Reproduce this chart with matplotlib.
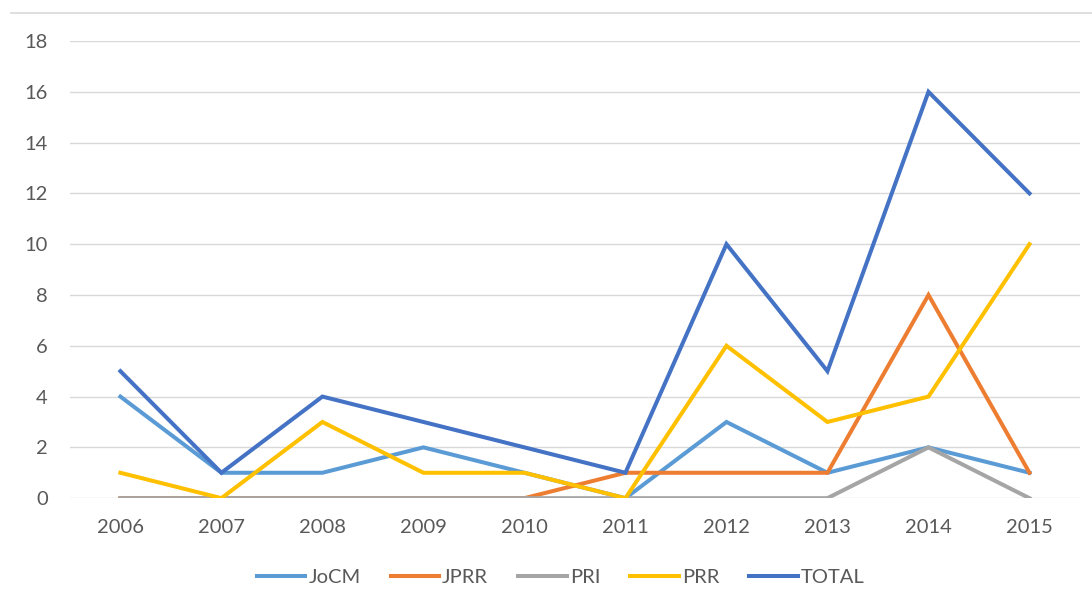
import matplotlib
matplotlib.use('Agg')
import matplotlib.pyplot as plt
from matplotlib.lines import Line2D

years = ['2006', '2007', '2008', '2009', '2010', '2011', '2012', '2013', '2014', '2015']
jocm = [4, 1, 1, 2, 1, 0, 3, 1, 2, 1]
jprr = [0, 0, 0, 0, 0, 1, 1, 1, 8, 1]
pri = [0, 0, 0, 0, 0, 0, 0, 0, 2, 0]
prr = [1, 0, 3, 1, 1, 0, 6, 3, 4, 10]
total = [5, 1, 4, 3, 2, 1, 10, 5, 16, 12]

series = [('JoCM', jocm, '#5B9BD5'), ('JPRR', jprr, '#ED7D31'), ('PRI', pri, '#A5A5A5'),
          ('PRR', prr, '#FFC000'), ('TOTAL', total, '#4472C4')]

plt.rcParams['font.family'] = ['Lato', 'DejaVu Sans']

fig = plt.figure(figsize=(10.92, 6.12), dpi=100)
ax = fig.add_axes([0.064, 0.186, 0.925, 0.747])

x = list(range(len(years)))
for name, vals, col in series:
    ax.plot(x, vals, color=col, lw=2.9, label=name, solid_joinstyle='miter')

ax.set_xlim(-0.5, len(years) - 0.5)
ax.set_ylim(0, 18)
ax.set_yticks(range(0, 19, 2))
ax.set_xticks(x)
ax.set_xticklabels(years)
ax.grid(axis='y', color='#D9D9D9', lw=1)
ax.set_axisbelow(True)
for s in ax.spines.values():
    s.set_visible(False)
ax.tick_params(length=0, colors='#595959', labelsize=14.5)
ax.tick_params(axis='y', pad=16)
ax.tick_params(axis='x', pad=15)

fig.add_artist(Line2D([0.01, 1.0], [0.979, 0.979], color='#D9D9D9', lw=1.2))

ax.legend(loc='center', bbox_to_anchor=(0.486, -0.173), ncol=5, frameon=False,
          fontsize=14.5, handlelength=2.4, handletextpad=0.15, columnspacing=1.5,
          labelcolor='#595959')

fig.savefig('out.png', dpi=100)
